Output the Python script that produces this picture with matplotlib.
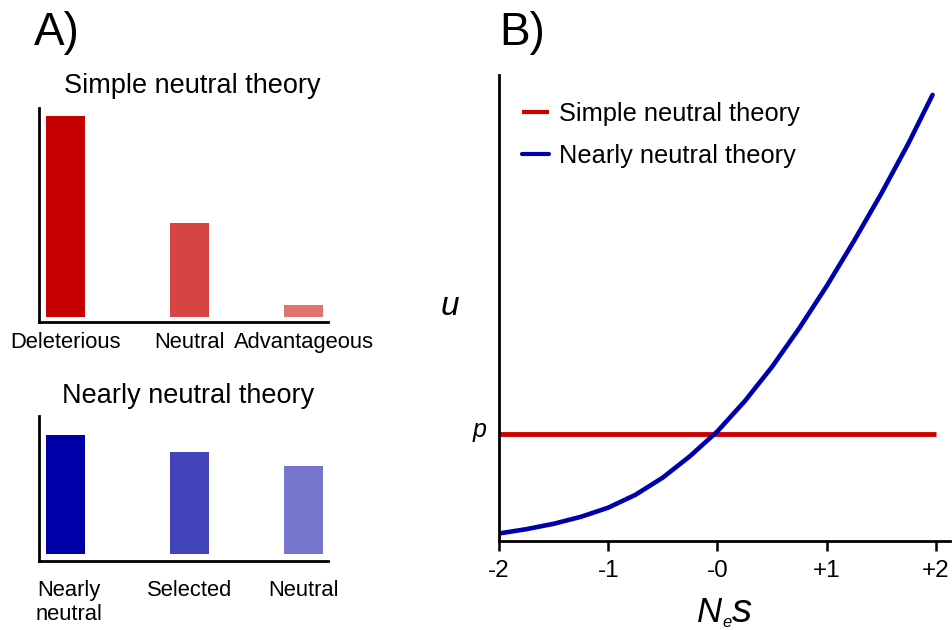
import matplotlib
matplotlib.use("Agg")
import matplotlib.pyplot as plt

plt.rcParams['font.family'] = ['Liberation Sans', 'DejaVu Sans']

# Panel A: share of new mutations in each class
simple_labels = ["Deleterious", "Neutral", "Advantageous"]
simple_values = [100, 47, 6]
simple_colors = ["#C60000", "#D64444", "#E07272"]

nearly_labels = ["Nearly\nneutral", "Selected", "Neutral"]
nearly_values = [59, 51, 44]
nearly_colors = ["#0000A8", "#4343BB", "#7676CC"]

# Panel B: fixation probability u against Ne*s
nes_ticks = [-2, -1, 0, 1, 2]
nes_tick_labels = ["-2", "-1", "-0", "+1", "+2"]
nes = [-2.0, -1.75, -1.5, -1.25, -1.0, -0.75, -0.5, -0.25, 0.0,
       0.25, 0.5, 0.75, 1.0, 1.25, 1.5, 1.75, 1.97]
u_nearly = [0.07, 0.11, 0.16, 0.225, 0.31, 0.43, 0.59, 0.79, 1.02,
            1.30, 1.62, 1.98, 2.37, 2.79, 3.23, 3.70, 4.15]
simple_x = [-2, 2]
simple_u = [1.0, 1.0]

W, H = 952, 630
fig = plt.figure(figsize=(W / 100, H / 100), dpi=100)


def px_axes(left, top, right, bottom):
    return fig.add_axes([left / W, 1 - bottom / H, (right - left) / W, (bottom - top) / H])


def style_bar_axes(ax):
    for side in ["top", "right"]:
        ax.spines[side].set_visible(False)
    for side in ["left", "bottom"]:
        ax.spines[side].set_linewidth(2)
    ax.set_yticks([])


bar_x = [0, 1, 1.92]
bar_w = 0.315

ax1 = px_axes(38.5, 108, 328, 322)
ax1.bar(bar_x, simple_values, width=bar_w, color=simple_colors)
ax1.set_xlim(-0.218, 2.117)
ax1.set_ylim(-2.5, 104)
ax1.set_xticks(bar_x)
ax1.set_xticklabels(simple_labels, fontsize=15.8)
ax1.tick_params(axis="x", length=0, pad=7)
style_bar_axes(ax1)

ax2 = px_axes(38.5, 416, 328, 561)
ax2.bar(bar_x, nearly_values, width=bar_w, color=nearly_colors)
ax2.set_xlim(-0.218, 2.117)
ax2.set_ylim(-3.5, 68.7)
ax2.set_xticks([0.03, 1, 1.92])
ax2.set_xticklabels(nearly_labels, fontsize=15.8, linespacing=1.15)
ax2.tick_params(axis="x", length=0, pad=14)
style_bar_axes(ax2)

fig.text(192 / W, 1 - 93 / H, "Simple neutral theory", fontsize=19.5, ha="center", va="baseline")
fig.text(188 / W, 1 - 402.7 / H, "Nearly neutral theory", fontsize=19.5, ha="center", va="baseline")
fig.text(34 / W, 1 - 45 / H, "A)", fontsize=33, ha="left", va="baseline")
fig.text(499 / W, 1 - 45 / H, "B)", fontsize=33, ha="left", va="baseline")

# Panel B
ax3 = px_axes(499, 75, 950, 541)
ax3.plot(simple_x, simple_u, color="#CC0000", lw=3.5, solid_capstyle="butt",
         label="Simple neutral theory")
ax3.plot(nes, u_nearly, color="#0000AA", lw=3.3, solid_capstyle="round",
         solid_joinstyle="round", label="Nearly neutral theory")
ax3.set_xlim(-2, 2.13)
ax3.set_ylim(0, 4.335)
ax3.set_xticks(nes_ticks)
ax3.set_xticklabels(nes_tick_labels, fontsize=17.5)
ax3.set_yticks([])
ax3.tick_params(axis="x", length=7, width=1.8, pad=7)
for side in ["top", "right"]:
    ax3.spines[side].set_visible(False)
for side in ["left", "bottom"]:
    ax3.spines[side].set_linewidth(2)

leg = ax3.legend(loc="upper left", bbox_to_anchor=(522 / W, 1 - 102 / H),
                 bbox_transform=fig.transFigure, frameon=False, fontsize=18.3,
                 handlelength=1.05, handletextpad=0.42, labelspacing=0.7,
                 borderpad=0, borderaxespad=0)
for line in leg.get_lines():
    line.set_linewidth(3)

fig.text(450 / W, 1 - 315 / H, "u", fontsize=24, style="italic", ha="center", va="baseline")
fig.text(480 / W, 1 - 437 / H, "p", fontsize=18, style="italic", ha="center", va="baseline")

# axis title N_e s
fig.text(697 / W, 1 - 622 / H, "N", fontsize=25, style="italic", ha="left", va="baseline")
fig.text(722.5 / W, 1 - 627 / H, "e", fontsize=12, style="italic", ha="left", va="baseline")
fig.text(732 / W, 1 - 622 / H, "s", fontsize=29, style="italic", ha="left", va="baseline")

fig.savefig("out.png", dpi=100)
